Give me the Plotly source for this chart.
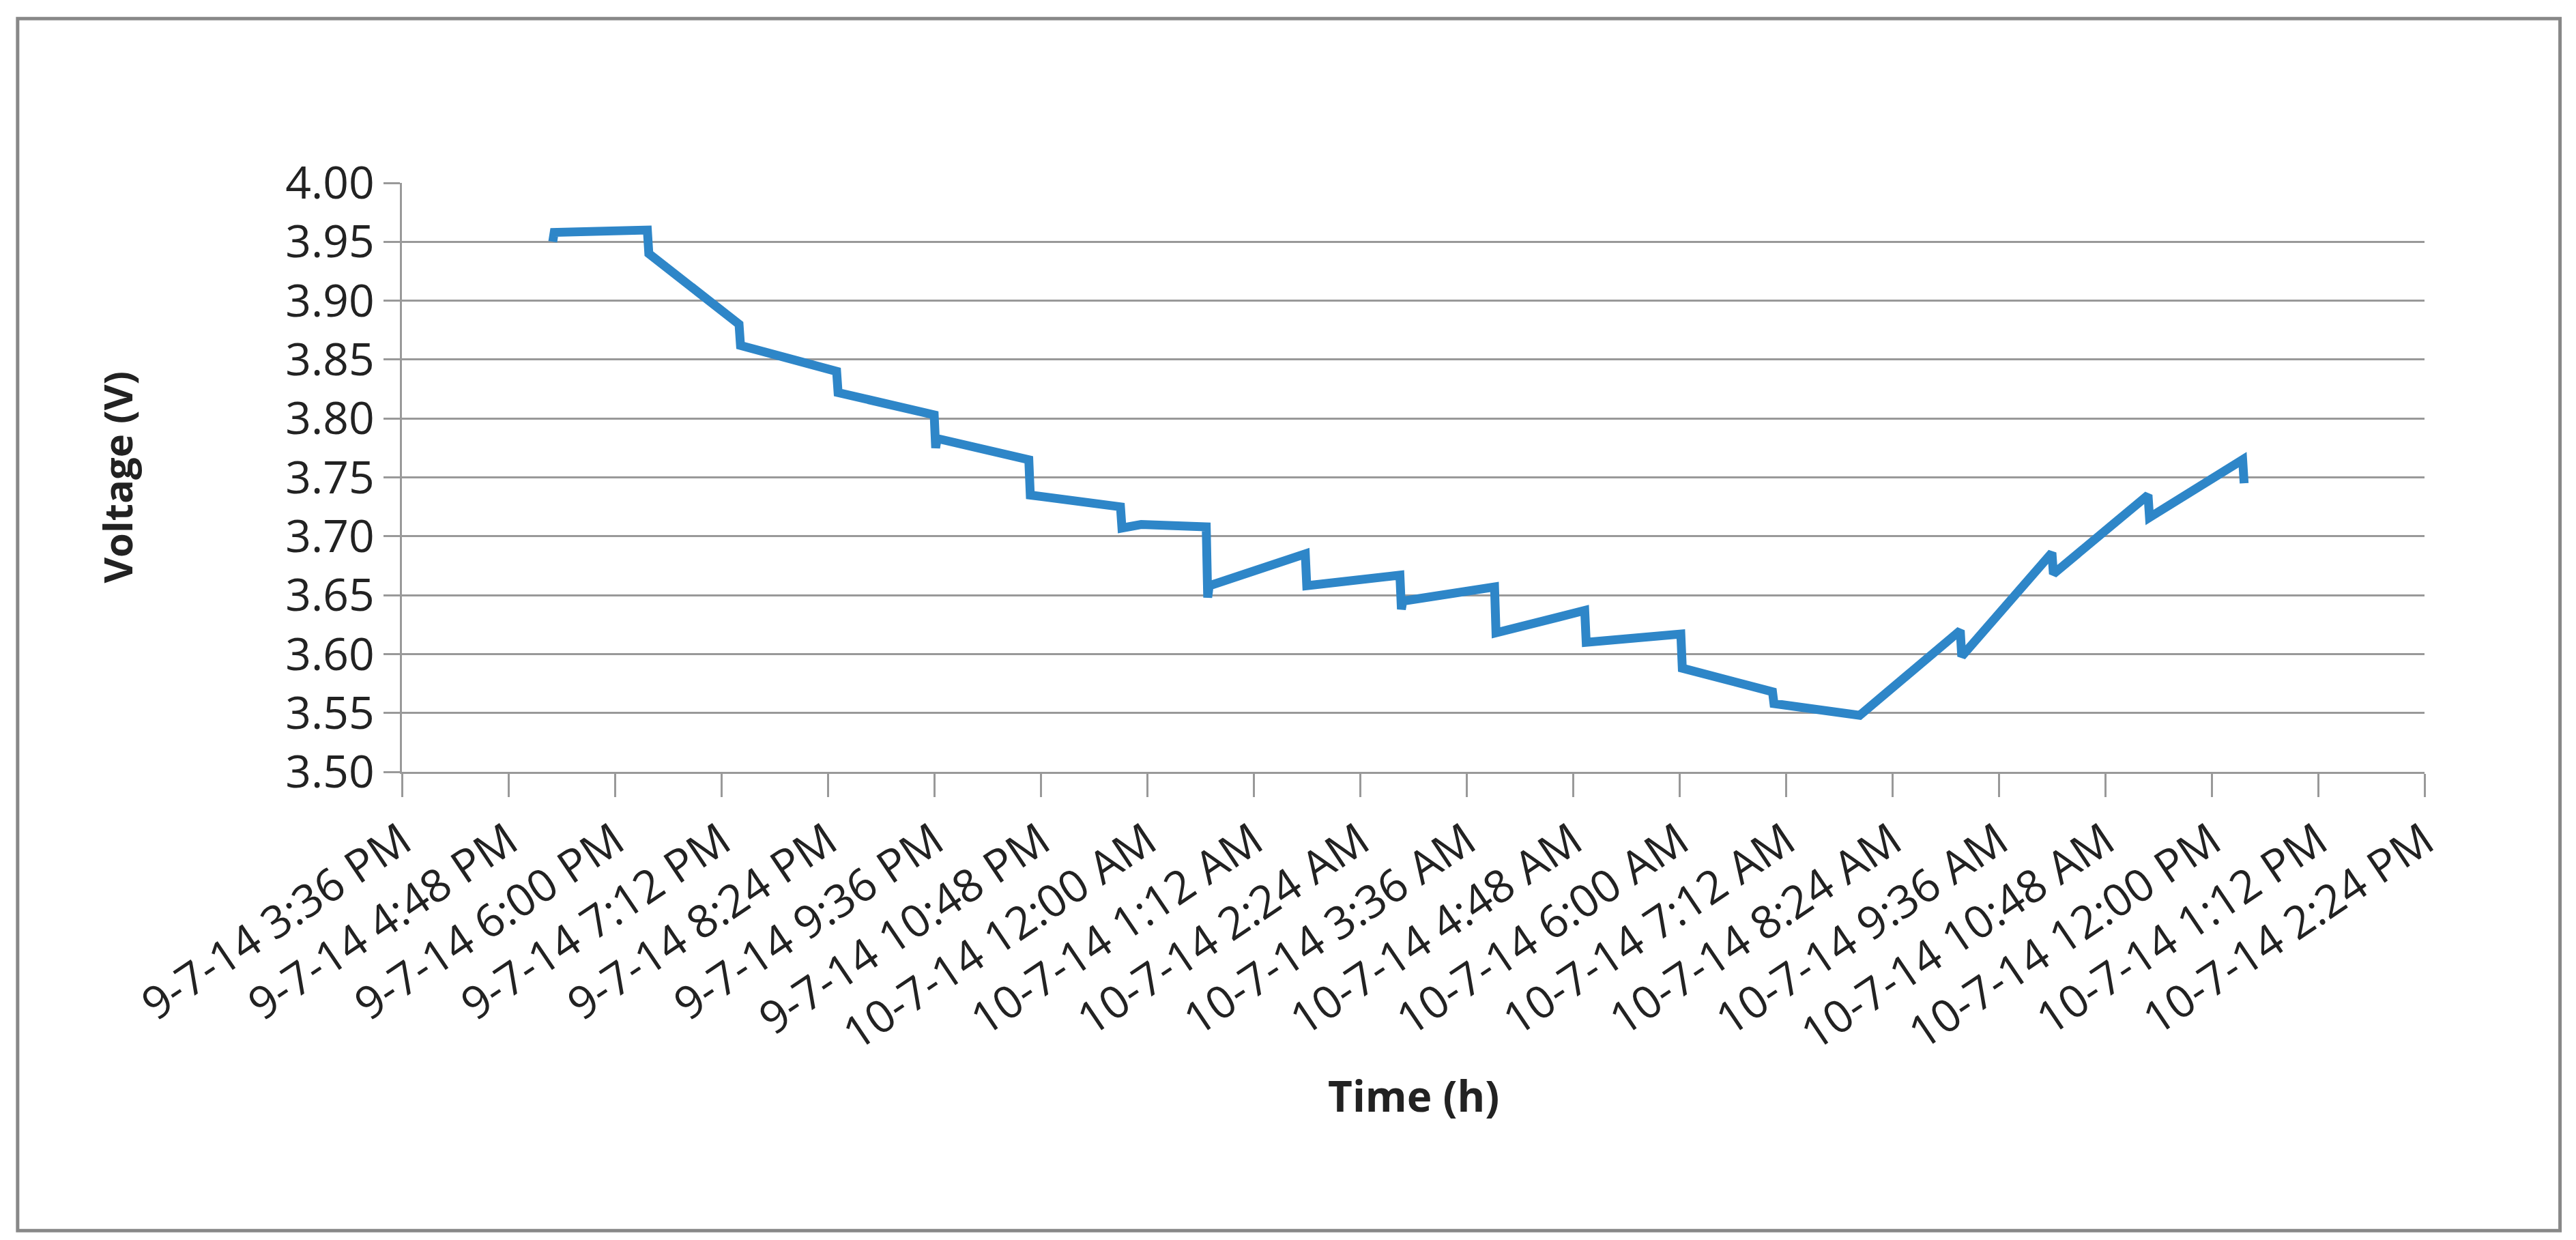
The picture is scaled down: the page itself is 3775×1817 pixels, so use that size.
import plotly.graph_objects as go

times = ["2014-07-09 17:18","2014-07-09 17:19","2014-07-09 18:22","2014-07-09 18:23",
         "2014-07-09 19:24","2014-07-09 19:25","2014-07-09 20:30","2014-07-09 20:31",
         "2014-07-09 21:36","2014-07-09 21:37","2014-07-09 21:38",
         "2014-07-09 22:40","2014-07-09 22:41","2014-07-09 23:42","2014-07-09 23:43",
         "2014-07-09 23:56","2014-07-10 00:40","2014-07-10 00:41","2014-07-10 00:42",
         "2014-07-10 01:47","2014-07-10 01:48","2014-07-10 02:51","2014-07-10 02:52","2014-07-10 02:53",
         "2014-07-10 03:55","2014-07-10 03:56","2014-07-10 04:56","2014-07-10 04:57",
         "2014-07-10 06:01","2014-07-10 06:02","2014-07-10 07:03","2014-07-10 07:04",
         "2014-07-10 08:02","2014-07-10 09:10","2014-07-10 09:11",
         "2014-07-10 10:12","2014-07-10 10:13","2014-07-10 11:17","2014-07-10 11:18",
         "2014-07-10 12:21","2014-07-10 12:22"]
voltage = [3.950,3.958,3.960,3.940,
           3.880,3.862,3.840,3.822,
           3.803,3.775,3.783,
           3.765,3.735,3.725,3.707,
           3.710,3.708,3.648,3.658,
           3.685,3.658,3.667,3.638,3.645,
           3.657,3.618,3.637,3.610,
           3.617,3.588,3.568,3.558,
           3.548,3.620,3.598,
           3.686,3.668,3.735,3.716,
           3.765,3.745]

tick_vals = ["2014-07-09 15:36","2014-07-09 16:48","2014-07-09 18:00","2014-07-09 19:12",
             "2014-07-09 20:24","2014-07-09 21:36","2014-07-09 22:48","2014-07-10 00:00",
             "2014-07-10 01:12","2014-07-10 02:24","2014-07-10 03:36","2014-07-10 04:48",
             "2014-07-10 06:00","2014-07-10 07:12","2014-07-10 08:24","2014-07-10 09:36",
             "2014-07-10 10:48","2014-07-10 12:00","2014-07-10 13:12","2014-07-10 14:24"]
tick_text = ["9-7-14 3:36 PM","9-7-14 4:48 PM","9-7-14 6:00 PM","9-7-14 7:12 PM",
             "9-7-14 8:24 PM","9-7-14 9:36 PM","9-7-14 10:48 PM","10-7-14 12:00 AM",
             "10-7-14 1:12 AM","10-7-14 2:24 AM","10-7-14 3:36 AM","10-7-14 4:48 AM",
             "10-7-14 6:00 AM","10-7-14 7:12 AM","10-7-14 8:24 AM","10-7-14 9:36 AM",
             "10-7-14 10:48 AM","10-7-14 12:00 PM","10-7-14 1:12 PM","10-7-14 2:24 PM"]

font = "Open Sans, Liberation Sans, Arial"
fig = go.Figure(go.Scatter(x=times, y=voltage, mode="lines",
                           line=dict(color="#2E86C8", width=13), hoverinfo="skip"))
fig.update_layout(
    width=3775, height=1817, paper_bgcolor="white", plot_bgcolor="white",
    margin=dict(l=581, r=230, t=260, b=694), showlegend=False,
    font=dict(family=font, size=60, color="#222"),
    xaxis=dict(type="date", range=[tick_vals[0], tick_vals[-1]], tickvals=tick_vals,
               ticktext=tick_text, tickangle=-34, showgrid=False, showline=True,
               linecolor="#999", linewidth=3, ticks="outside", ticklen=34,
               tickcolor="#999", tickwidth=3, tickfont=dict(size=66)),
    yaxis=dict(range=[3.5, 4.0], dtick=0.05, tickformat=".2f", showgrid=True,
               gridcolor="#999", gridwidth=3, showline=True, linecolor="#999",
               linewidth=3, ticks="outside", ticklen=24, tickcolor="#999", tickwidth=3,
               tickfont=dict(size=66), zeroline=False),
    annotations=[
        dict(text="<b>Time (h)</b>", xref="paper", yref="paper", x=0.5, y=-0.6,
             showarrow=False, font=dict(size=62, family="Open Sans, Arial")),
        dict(text="<b>Voltage (V)</b>", xref="paper", yref="paper", x=-0.155, y=0.5,
             textangle=-90, showarrow=False, font=dict(size=58, family="Open Sans, Arial")),
    ],
    shapes=[dict(type="rect", xref="paper", yref="paper", x0=-0.19, x1=1.067,
                 y0=-0.779, y1=1.279, line=dict(color="#888", width=5))],
)
fig.write_html("out.html")
